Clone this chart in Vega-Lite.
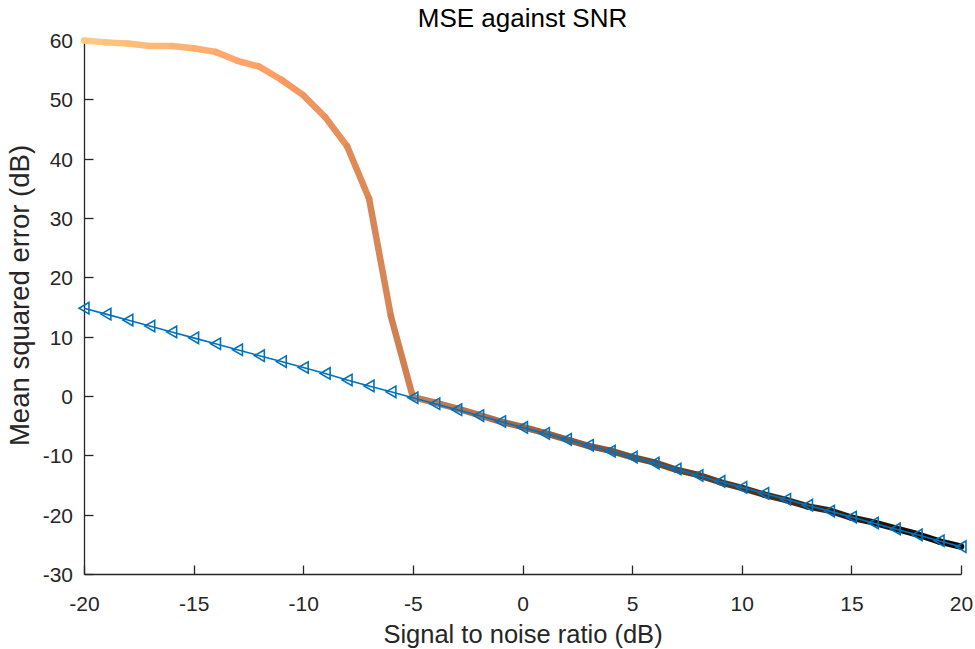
{
  "$schema": "https://vega.github.io/schema/vega-lite/v6.json",
  "autosize": "none",
  "width": 877,
  "height": 534,
  "padding": {"left": 84, "top": 40, "right": 14, "bottom": 75},
  "background": "white",
  "title": {
    "text": "MSE against SNR",
    "font": "Liberation Sans",
    "fontSize": 26,
    "fontWeight": "normal",
    "color": "#000000",
    "anchor": "middle",
    "frame": "group",
    "baseline": "alphabetic",
    "offset": 13,
    "dy": 35
  },
  "config": {
    "view": {"stroke": null},
    "axis": {
      "domainColor": "#262626",
      "domainWidth": 1.3,
      "tickColor": "#262626",
      "tickWidth": 1.3,
      "tickSize": -9,
      "grid": false,
      "labelFont": "Liberation Sans",
      "labelFontSize": 21,
      "labelColor": "#262626",
      "labelFlush": false,
      "labelOverlap": false,
      "labelExpr": "'' + datum.value",
      "titleFont": "Liberation Sans",
      "titleFontWeight": "normal",
      "titleColor": "#262626"
    }
  },
  "datasets": {
    "estimate": [
      {"snr": -20, "mse": 59.9}, {"snr": -19, "mse": 59.6}, {"snr": -18, "mse": 59.4},
      {"snr": -17, "mse": 59.0}, {"snr": -16, "mse": 59.0}, {"snr": -15, "mse": 58.6},
      {"snr": -14, "mse": 58.0}, {"snr": -13, "mse": 56.5}, {"snr": -12, "mse": 55.5},
      {"snr": -11, "mse": 53.3}, {"snr": -10, "mse": 50.7}, {"snr": -9, "mse": 47.0},
      {"snr": -8, "mse": 42.1}, {"snr": -7, "mse": 33.3}, {"snr": -6, "mse": 13.4},
      {"snr": -5, "mse": -0.2}, {"snr": -4, "mse": -1.1}, {"snr": -3, "mse": -2.1},
      {"snr": -2, "mse": -3.2}, {"snr": -1, "mse": -4.3}, {"snr": 0, "mse": -5.2},
      {"snr": 1, "mse": -6.2}, {"snr": 2, "mse": -7.3}, {"snr": 3, "mse": -8.4},
      {"snr": 4, "mse": -9.2}, {"snr": 5, "mse": -10.3}, {"snr": 6, "mse": -11.2},
      {"snr": 7, "mse": -12.4}, {"snr": 8, "mse": -13.3}, {"snr": 9, "mse": -14.5},
      {"snr": 10, "mse": -15.5}, {"snr": 11, "mse": -16.6}, {"snr": 12, "mse": -17.5},
      {"snr": 13, "mse": -18.6}, {"snr": 14, "mse": -19.3}, {"snr": 15, "mse": -20.5},
      {"snr": 16, "mse": -21.3}, {"snr": 17, "mse": -22.3}, {"snr": 18, "mse": -23.3},
      {"snr": 19, "mse": -24.5}, {"snr": 20, "mse": -25.4}
    ],
    "bound": [
      {"snr": -20, "mse": 14.8}, {"snr": -19, "mse": 13.8}, {"snr": -18, "mse": 12.8},
      {"snr": -17, "mse": 11.8}, {"snr": -16, "mse": 10.8}, {"snr": -15, "mse": 9.8},
      {"snr": -14, "mse": 8.8}, {"snr": -13, "mse": 7.8}, {"snr": -12, "mse": 6.8},
      {"snr": -11, "mse": 5.8}, {"snr": -10, "mse": 4.8}, {"snr": -9, "mse": 3.8},
      {"snr": -8, "mse": 2.7}, {"snr": -7, "mse": 1.7}, {"snr": -6, "mse": 0.7},
      {"snr": -5, "mse": -0.3}, {"snr": -4, "mse": -1.3}, {"snr": -3, "mse": -2.3},
      {"snr": -2, "mse": -3.3}, {"snr": -1, "mse": -4.3}, {"snr": 0, "mse": -5.3},
      {"snr": 1, "mse": -6.3}, {"snr": 2, "mse": -7.3}, {"snr": 3, "mse": -8.3},
      {"snr": 4, "mse": -9.3}, {"snr": 5, "mse": -10.3}, {"snr": 6, "mse": -11.3},
      {"snr": 7, "mse": -12.3}, {"snr": 8, "mse": -13.4}, {"snr": 9, "mse": -14.4},
      {"snr": 10, "mse": -15.4}, {"snr": 11, "mse": -16.4}, {"snr": 12, "mse": -17.4},
      {"snr": 13, "mse": -18.4}, {"snr": 14, "mse": -19.4}, {"snr": 15, "mse": -20.4},
      {"snr": 16, "mse": -21.4}, {"snr": 17, "mse": -22.4}, {"snr": 18, "mse": -23.4},
      {"snr": 19, "mse": -24.4}, {"snr": 20, "mse": -25.4}
    ]
  },
  "encoding": {
    "x": {
      "field": "snr",
      "type": "quantitative",
      "scale": {"domain": [-20, 20], "nice": false, "zero": false},
      "axis": {
        "title": "Signal to noise ratio (dB)",
        "titleFontSize": 25.5,
        "titleBaseline": "alphabetic",
        "titleY": 68,
        "values": [-20, -15, -10, -5, 0, 5, 10, 15, 20],
        "labelPadding": 28.5
      }
    },
    "y": {
      "field": "mse",
      "type": "quantitative",
      "scale": {"domain": [-30, 60], "nice": false, "zero": false},
      "axis": {
        "title": "Mean squared error (dB)",
        "titleFontSize": 27.5,
        "titleBaseline": "middle",
        "titleX": -64,
        "titleY": 255,
        "values": [-30, -20, -10, 0, 10, 20, 30, 40, 50, 60],
        "labelPadding": 20.5,
        "labelOffset": 1.5
      }
    }
  },
  "layer": [
    {
      "data": {"name": "estimate"},
      "transform": [
        {
          "window": [
            {"op": "lead", "field": "snr", "as": "snr_next"},
            {"op": "lead", "field": "mse", "as": "mse_next"}
          ],
          "sort": [{"field": "snr", "order": "ascending"}]
        },
        {"filter": "datum.snr_next != null"}
      ],
      "mark": {"type": "rule", "strokeWidth": 6.5, "strokeCap": "round", "clip": false},
      "encoding": {
        "x2": {"field": "snr_next"},
        "y2": {"field": "mse_next"},
        "color": {
          "field": "snr",
          "type": "quantitative",
          "scale": {
            "domain": [-20, -12, 20],
            "range": ["#FFC77F", "#FF9F65", "#000000"],
            "interpolate": "rgb"
          },
          "legend": null
        }
      }
    },
    {
      "data": {"name": "bound"},
      "mark": {"type": "line", "color": "#0072BD", "strokeWidth": 1.6, "clip": false},
      "encoding": {}
    },
    {
      "data": {"name": "bound"},
      "mark": {
        "type": "point",
        "shape": "triangle-left",
        "filled": false,
        "color": "#0072BD",
        "strokeWidth": 1.6,
        "size": 130,
        "opacity": 1,
        "clip": false
      },
      "encoding": {}
    }
  ]
}
